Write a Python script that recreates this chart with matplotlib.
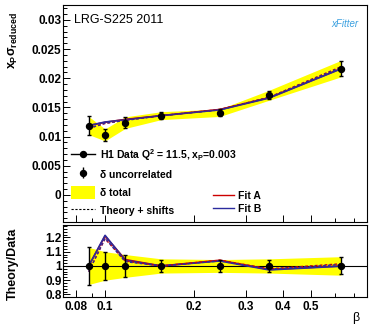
import matplotlib
matplotlib.use("Agg")
from matplotlib import pyplot as plt
from matplotlib.lines import Line2D
from matplotlib.patches import Patch
from matplotlib.ticker import FixedLocator, FixedFormatter, MultipleLocator
import numpy as np

plt.rcParams['font.family'] = ['Liberation Sans', 'DejaVu Sans']
plt.rcParams['font.weight'] = 'bold'
plt.rcParams['mathtext.fontset'] = 'custom'
plt.rcParams['mathtext.rm'] = 'Liberation Sans:bold'
plt.rcParams['mathtext.it'] = 'Liberation Sans:bold'
plt.rcParams['mathtext.bf'] = 'Liberation Sans:bold'

# data
beta = [0.088, 0.1, 0.117, 0.155, 0.245, 0.36, 0.63]
data = [0.0119, 0.0103, 0.0124, 0.0136, 0.0141, 0.0171, 0.02165]
unc_rel = [0.135, 0.10, 0.075, 0.04, 0.04, 0.04, 0.06]
tot_rel = [0.13, 0.10, 0.08, 0.05, 0.045, 0.05, 0.065]
fitA_ratio = [1.00, 1.21, 1.045, 1.00, 1.04, 0.975, 1.00]
fitB_ratio = [1.00, 1.215, 1.04, 1.00, 1.035, 0.972, 0.998]
fitA_shift = [0.96, 1.19, 1.035, 1.00, 1.04, 0.98, 1.015]
fitB_shift = [0.96, 1.195, 1.03, 1.00, 1.035, 0.978, 1.01]

red = '#cc0000'
blue = '#2b2b9e'
yellow = '#ffff00'

beta = np.array(beta)
data = np.array(data)
unc_rel = np.array(unc_rel)
tot_rel = np.array(tot_rel)

W, H = 369, 325
fig = plt.figure(figsize=(W / 100, H / 100), dpi=100)
ax = fig.add_axes([63 / W, 1 - 222 / H, 304 / W, 217 / H])
axr = fig.add_axes([63 / W, 1 - 297 / H, 304 / W, 72.5 / H])

# upper panel
ax.fill_between(beta, data * (1 - tot_rel), data * (1 + tot_rel), color=yellow, lw=0)
ax.plot(beta, data * np.array(fitA_ratio), color=red, lw=1.2)
ax.plot(beta, data * np.array(fitB_ratio), color=blue, lw=1.2)
ax.plot(beta, data * np.array(fitA_shift), color=red, lw=1.0, ls=(0, (2, 1.5)))
ax.plot(beta, data * np.array(fitB_shift), color=blue, lw=1.0, ls=(0, (2, 1.5)))
ax.errorbar(beta, data, yerr=data * unc_rel, fmt='o', color='black', ms=4.3,
            elinewidth=1.0, capsize=1.5, capthick=1.0)

# ratio panel
axr.fill_between(beta, 1 - tot_rel, 1 + tot_rel, color=yellow, lw=0)
axr.axhline(1.0, color='black', lw=0.8)
axr.plot(beta, fitA_ratio, color=red, lw=1.2)
axr.plot(beta, fitB_ratio, color=blue, lw=1.2)
axr.plot(beta, fitA_shift, color=red, lw=1.0, ls=(0, (2, 1.5)))
axr.plot(beta, fitB_shift, color=blue, lw=1.0, ls=(0, (2, 1.5)))
axr.errorbar(beta, np.ones_like(beta), yerr=unc_rel, fmt='o', color='black', ms=4.3,
             elinewidth=1.0, capsize=1.5, capthick=1.0)

for a in (ax, axr):
    a.set_xscale('log')
    a.set_xlim(0.072, 0.773)
    a.xaxis.set_major_locator(FixedLocator([0.08, 0.1, 0.2, 0.3, 0.4, 0.5]))
    a.xaxis.set_minor_locator(FixedLocator([0.09, 0.6, 0.7]))
    a.tick_params(which='both', direction='in', top=False, right=False, width=0.7)
    a.tick_params(which='major', length=5, labelsize=8.5)
    a.tick_params(which='minor', length=3)
    for s in a.spines.values():
        s.set_linewidth(0.8)

ax.xaxis.set_major_formatter(FixedFormatter([''] * 6))
ax.xaxis.set_minor_formatter(FixedFormatter([''] * 3))
axr.xaxis.set_major_formatter(FixedFormatter(['0.08', '0.1', '0.2', '0.3', '0.4', '0.5']))
axr.xaxis.set_minor_formatter(FixedFormatter([''] * 3))
axr.tick_params(axis='x', pad=3)

ax.set_ylim(-0.00463, 0.03257)
ax.yaxis.set_major_locator(FixedLocator([0, 0.005, 0.01, 0.015, 0.02, 0.025, 0.03]))
ax.yaxis.set_major_formatter(FixedFormatter(['0', '0.005', '0.01', '0.015', '0.02', '0.025', '0.03']))
ax.yaxis.set_minor_locator(MultipleLocator(0.001))

axr.set_ylim(0.782, 1.291)
axr.yaxis.set_major_locator(FixedLocator([0.8, 0.9, 1.0, 1.1, 1.2]))
axr.yaxis.set_major_formatter(FixedFormatter(['0.8', '0.9', '1', '1.1', '1.2']))
axr.yaxis.set_minor_locator(MultipleLocator(0.02))
axr.tick_params(axis='y', pad=1)
ax.tick_params(axis='y', pad=1)

# legends
h_data = Line2D([], [], color='black', marker='o', ms=4.3, lw=1.0)
h_unc = ax.errorbar([], [], yerr=[], fmt='o', color='black', ms=4.3, elinewidth=1.0)
h_tot = Patch(facecolor=yellow, edgecolor='none')
h_shift = Line2D([], [], color='black', lw=0.8, ls=(0, (2, 1.5)))
leg1 = ax.legend([h_data, h_unc, h_tot, h_shift],
                 ['H1 Data Q$^2$ = 11.5, x$_P$=0.003', '\u03b4 uncorrelated', '\u03b4 total', 'Theory + shifts'],
                 loc='upper left', bbox_to_anchor=(8 / 304, 75 / 217), frameon=False,
                 fontsize=7.5, handlelength=2.3, handleheight=1.6, handletextpad=0.5,
                 labelspacing=0.45, borderaxespad=0, borderpad=0)
ax.add_artist(leg1)
h_a = Line2D([], [], color=red, lw=1.0)
h_b = Line2D([], [], color=blue, lw=1.0)
ax.legend([h_a, h_b], ['Fit A', 'Fit B'], loc='upper left',
          bbox_to_anchor=(150 / 304, 31 / 217), frameon=False, fontsize=7.5,
          handlelength=2.0, handletextpad=0.4, labelspacing=0.25,
          borderaxespad=0, borderpad=0)

fig.text(74 / W, 1 - 20 / H, 'LRG-S225 2011', fontsize=9, weight='normal',
         va='center', ha='left')
fig.text(345 / W, 1 - 24 / H, 'xFitter', fontsize=7, style='italic', weight='normal',
         color='#3aa0e0', ha='center', va='center')
fig.text(13 / W, 1 - 40 / H, r'$x_P\sigma_{reduced}$', fontsize=9, rotation=90,
         ha='center', va='center')
fig.text(13 / W, 1 - 264 / H, 'Theory/Data', fontsize=9, rotation=90,
         ha='center', va='center')
fig.text(356 / W, 1 - 318 / H, '\u03b2', fontsize=9, weight='normal',
         ha='center', va='center')

fig.savefig('out.png', dpi=100)
